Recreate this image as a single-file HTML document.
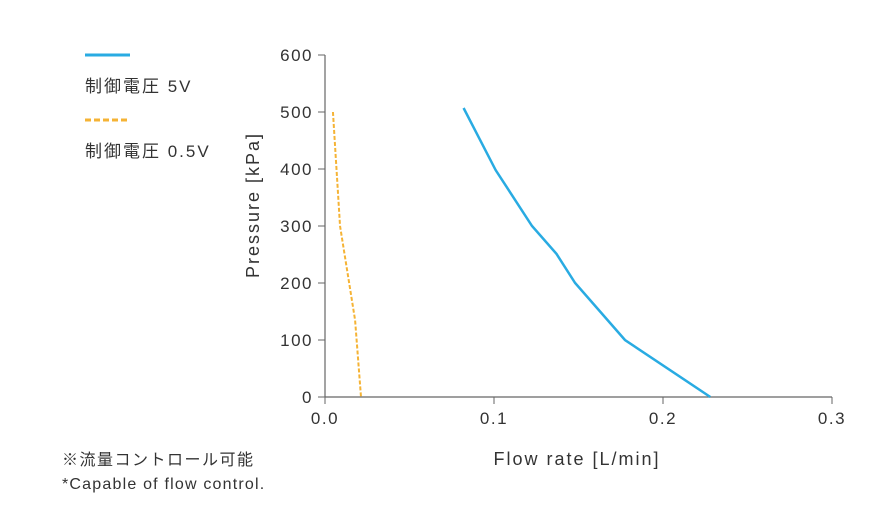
<!DOCTYPE html>
<html><head><meta charset="utf-8"><style>
body{margin:0;background:#fff;width:885px;height:519px;overflow:hidden}
text{font-family:"Liberation Sans","Noto Sans CJK JP",sans-serif;fill:#333}
</style></head><body>
<svg id="chart" width="885" height="519">
<g id="axes"></g><g id="series"></g>
<g>
<line x1="85" y1="55" x2="130" y2="55" stroke="#29abe2" stroke-width="3"/>
<text x="85" y="92" font-size="17" letter-spacing="2">制御電圧 5V</text>
<line x1="85" y1="120" x2="130" y2="120" stroke="#f5b335" stroke-width="3" stroke-dasharray="6,3"/>
<text x="85" y="157" font-size="17" letter-spacing="2">制御電圧 0.5V</text>
</g>
<text x="62" y="465" font-size="16" letter-spacing="1.5">※流量コントロール可能</text>
<text x="62" y="489" font-size="16" letter-spacing="1.2">*Capable of flow control.</text>
<text x="577" y="465" font-size="18" letter-spacing="2" text-anchor="middle">Flow rate [L/min]</text>
<text transform="translate(259,205) rotate(-90)" font-size="18" letter-spacing="2" text-anchor="middle">Pressure [kPa]</text>
</svg>
<script>
const xTicks=[0,0.1,0.2,0.3];
const xTickLabels=["0.0","0.1","0.2","0.3"];
const yTicks=[0,100,200,300,400,500,600];
const flow5V=[0.082,0.101,0.1225,0.137,0.148,0.1775,0.228];
const pressure5V=[507,398,300,251,200,100,0];
const flow05V=[0.0047,0.0089,0.0178,0.0213];
const pressure05V=[500,300,135,0];
const X=v=>325+v/0.3*507, Y=v=>397-v/600*342;
const NS="http://www.w3.org/2000/svg";
const ax=document.getElementById('axes'), se=document.getElementById('series');
function mk(t,a,p){const e=document.createElementNS(NS,t);for(const k in a)e.setAttribute(k,a[k]);p.appendChild(e);return e;}
let l=mk('line',{x1:325,y1:Y(600),x2:325,y2:397,stroke:'#666','stroke-width':1.2},ax);


l=mk('line',{x1:325,y1:397,x2:X(0.3),y2:397,stroke:'#666','stroke-width':1.2},ax);


yTicks.forEach(v=>{
 const t=mk('line',{x1:318,y1:Y(v),x2:325,y2:Y(v),stroke:'#666'},ax);
 
 
 const tx=mk('text',{x:313,y:Y(v)+6,'font-size':17,'letter-spacing':1.5,'text-anchor':'end'},ax);tx.textContent=v;
 
 
});
xTicks.forEach((v,i)=>{
 const t=mk('line',{x1:X(v),y1:397,x2:X(v),y2:404,stroke:'#666'},ax);
 
 
 const tx=mk('text',{x:X(v),y:424,'font-size':17,'letter-spacing':1.5,'text-anchor':'middle'},ax);tx.textContent=xTickLabels[i];
 
 
});
let p=mk('polyline',{points:flow5V.map((f,i)=>X(f)+','+Y(pressure5V[i])).join(' '),fill:'none',stroke:'#29abe2','stroke-width':2.5},se);


p=mk('polyline',{points:flow05V.map((f,i)=>X(f)+','+Y(pressure05V[i])).join(' '),fill:'none',stroke:'#f5b335','stroke-width':2,'stroke-dasharray':'4,2'},se);


</script>
</body></html>
